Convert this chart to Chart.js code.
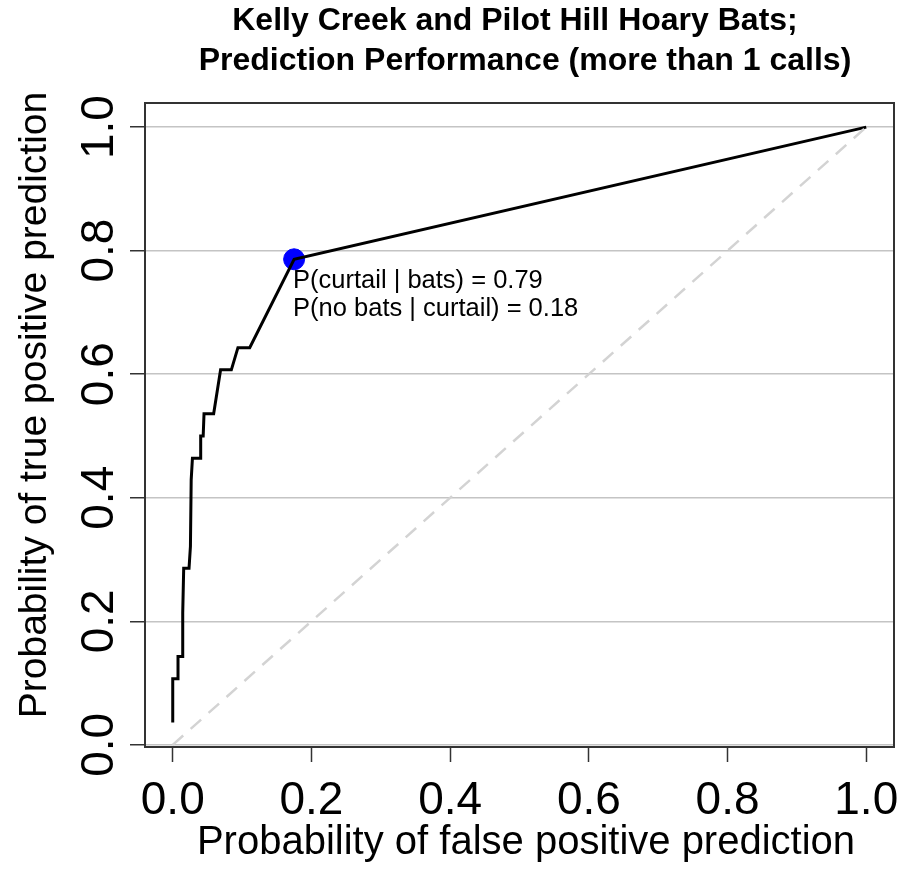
<!DOCTYPE html>
<html>
<head>
<meta charset="utf-8">
<script src="https://cdn.jsdelivr.net/npm/chart.js@4/dist/chart.umd.min.js"></script>
<style>
    body { margin: 0; background: #fff; }
    #wrap { width: 899px; height: 873px; }
</style>
</head>
<body>
<div id="wrap"><canvas id="roc-chart"></canvas></div>
<script>
// ROC curve
const falsePos = [0, 0, 0.0076, 0.0076, 0.0137, 0.0144, 0.0158, 0.0235, 0.0255, 0.0266, 0.0284, 0.0399, 0.0403, 0.0439, 0.0451, 0.059, 0.069, 0.0845, 0.094, 0.111, 0.175, 1];
const truePos = [0.036, 0.107, 0.107, 0.143, 0.143, 0.214, 0.286, 0.286, 0.321, 0.429, 0.464, 0.464, 0.5, 0.5, 0.536, 0.536, 0.607, 0.607, 0.643, 0.643, 0.786, 1];
const chancePos = [0, 1];
const bestPoint = [0.175, 0.786];
const tickVals = [0, 0.2, 0.4, 0.6, 0.8, 1.0];
const titleLines = ['Kelly Creek and Pilot Hill Hoary Bats;', 'Prediction Performance (more than 1 calls)'];
const noteLines = ['P(curtail | bats) = 0.79', 'P(no bats | curtail) = 0.18'];

const FONT = "'Liberation Sans', Arial, sans-serif";

const extraText = {
    id: 'extraText',
    afterDraw(chart) {
        const { ctx, chartArea, scales } = chart;
        ctx.save();
        // box round the plot
        ctx.strokeStyle = '#333';
        ctx.lineWidth = 2;
        ctx.strokeRect(chartArea.left, chartArea.top, chartArea.right - chartArea.left, chartArea.bottom - chartArea.top);

        ctx.fillStyle = '#000';
        ctx.textAlign = 'center';
        ctx.textBaseline = 'middle';

        // title
        ctx.font = 'bold 32px ' + FONT;
        ctx.fillText(titleLines[0], 515, 21);
        ctx.fillText(titleLines[1], 525, 61);

        // x tick labels
        ctx.font = '46px ' + FONT;
        tickVals.forEach(v => {
            ctx.fillText(v.toFixed(1), scales.x.getPixelForValue(v), 801);
        });

        // y tick labels, rotated like R
        tickVals.forEach(v => {
            const y = scales.y.getPixelForValue(v);
            ctx.save();
            ctx.translate(100, y);
            ctx.rotate(-Math.PI / 2);
            ctx.fillText(v.toFixed(1), 0, 0);
            ctx.restore();
        });

        // axis titles
        ctx.font = '40px ' + FONT;
        ctx.fillText('Probability of false positive prediction', 526, 843);

        ctx.font = '39px ' + FONT;
        ctx.save();
        ctx.translate(35, 405);
        ctx.rotate(-Math.PI / 2);
        ctx.fillText('Probability of true positive prediction', 0, 0);
        ctx.restore();

        // note next to the best point
        const px = scales.x.getPixelForValue(bestPoint[0]);
        const py = scales.y.getPixelForValue(bestPoint[1]);
        ctx.font = '25.5px ' + FONT;
        ctx.textAlign = 'left';
        ctx.fillText(noteLines[0], px - 1, py + 22);
        ctx.fillText(noteLines[1], px - 1, py + 50);
        ctx.restore();
    }
};

const ctx = document.getElementById('roc-chart').getContext('2d');
new Chart(ctx, {
    type: 'scatter',
    data: {
        datasets: [
            {
                label: 'chance',
                data: chancePos.map((v, i) => ({ x: v, y: chancePos[i] })),
                showLine: true,
                borderColor: '#d3d3d3',
                borderWidth: 2.5,
                borderDash: [14, 10],
                pointRadius: 0
            },
            {
                label: 'ROC',
                data: falsePos.map((v, i) => ({ x: v, y: truePos[i] })),
                showLine: true,
                borderColor: '#000',
                borderWidth: 3,
                pointRadius: 0,
                tension: 0
            },
            {
                label: 'best',
                data: [{ x: bestPoint[0], y: bestPoint[1] }],
                backgroundColor: '#0000ff',
                borderColor: '#0000ff',
                pointRadius: 10.5
            }
        ]
    },
    options: {
        responsive: true,
        maintainAspectRatio: false,
        animation: false,
        layout: { autoPadding: false, padding: { top: 103, right: 5, left: 0, bottom: 0 } },
        scales: {
            x: {
                type: 'linear',
                min: -0.04,
                max: 1.04,
                afterBuildTicks: scale => { scale.ticks = tickVals.map(v => ({ value: v })); },
                afterFit: scale => { scale.height = 126; },
                grid: {
                    drawOnChartArea: false,
                    tickLength: 15,
                    tickColor: '#333',
                    tickWidth: 1.5
                },
                border: { display: false },
                ticks: { display: false }
            },
            y: {
                type: 'linear',
                min: -0.0035,
                max: 1.039,
                afterBuildTicks: scale => { scale.ticks = tickVals.map(v => ({ value: v })); },
                afterFit: scale => { scale.width = 145; },
                grid: {
                    color: '#c4c4c4',
                    lineWidth: 1.5,
                    tickLength: 15,
                    tickColor: '#333',
                    tickWidth: 1.5
                },
                border: { display: false },
                ticks: { display: false }
            }
        },
        plugins: {
            legend: { display: false },
            tooltip: { enabled: false }
        }
    },
    plugins: [extraText]
});
</script>
</body>
</html>
